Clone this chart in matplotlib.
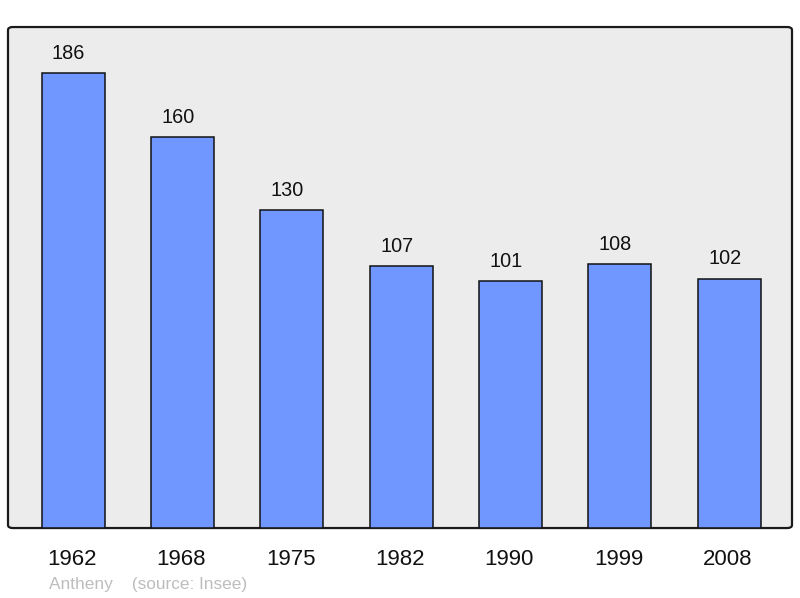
import matplotlib
matplotlib.use("Agg")
import matplotlib.pyplot as plt
from matplotlib.patches import FancyBboxPatch

years = ["1962", "1968", "1975", "1982", "1990", "1999", "2008"]
population = [186, 160, 130, 107, 101, 108, 102]
commune = "Antheny"
source = "(source: Insee)"

plt.rcParams['font.family'] = ['Liberation Sans', 'DejaVu Sans']

fig = plt.figure(figsize=(8, 5.98), dpi=100)
ax = fig.add_axes([0.01, 0.117, 0.98, 0.8378])
ax.set_xlim(-0.595, 6.576)
ax.set_ylim(0, 204.8)
ax.axis('off')

frame = FancyBboxPatch((0, 0), 1, 1, boxstyle="round,pad=0,rounding_size=0.006",
                       transform=ax.transAxes, facecolor='#ececec', edgecolor='#1a1a1a',
                       linewidth=1.6, clip_on=False, zorder=0)
ax.add_patch(frame)

x = list(range(len(years)))
ax.bar(x, population, width=0.576, color='#7096ff', edgecolor='#111111',
       linewidth=1.1, zorder=2)

for xi, v in zip(x, population):
    ax.annotate(str(v), (xi, v), xytext=(-3.2, 10.1), textcoords='offset points',
                ha='center', va='baseline', fontsize=14.3, color='#111111')

for xi, y in zip(x, years):
    ax.annotate(y, (xi, 0), xytext=(-0.7, -26.6), textcoords='offset points',
                ha='center', va='baseline', fontsize=16, color='#111111',
                annotation_clip=False)

fig.text(49 / 800, 1 - 589 / 598, commune + "    " + source, ha='left', va='baseline',
         fontsize=12.4, color='#bdbdbd')

fig.savefig("out.png", dpi=100, facecolor='white')
